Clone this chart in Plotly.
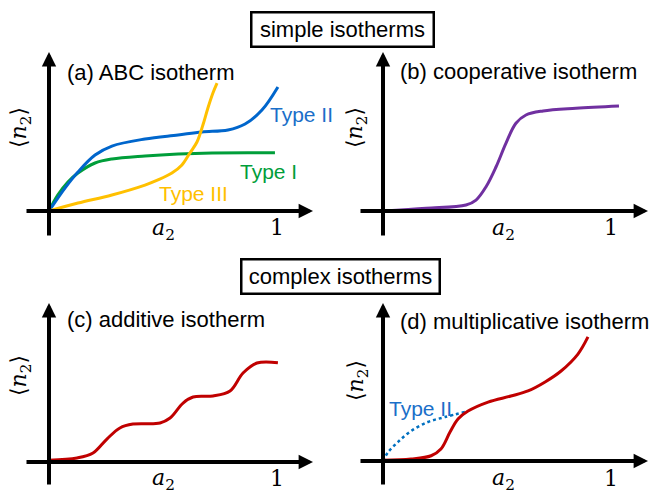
import plotly.graph_objects as go

W, H = 652, 493

# ---------------- data (x in units of a2, y in arbitrary units of <n2>) ----------------
# (a) ABC isotherm
a_typeII_x = [0, 0.070, 0.127, 0.202, 0.276, 0.421, 0.566, 0.671, 0.785, 0.860, 0.934, 1.004]
a_typeII_y = [0, 0.153, 0.260, 0.373, 0.433, 0.480, 0.507, 0.527, 0.540, 0.580, 0.673, 0.827]
a_typeI_x = [0, 0.039, 0.083, 0.127, 0.202, 0.276, 0.421, 0.566, 0.715, 0.991]
a_typeI_y = [0, 0.107, 0.193, 0.253, 0.320, 0.347, 0.367, 0.380, 0.387, 0.388]
a_typeIII_x = [0, 0.127, 0.276, 0.421, 0.478, 0.539, 0.583, 0.618, 0.649, 0.675, 0.697, 0.719, 0.737]
a_typeIII_y = [0, 0.053, 0.107, 0.173, 0.207, 0.253, 0.307, 0.387, 0.460, 0.573, 0.687, 0.787, 0.853]
# (b) cooperative isotherm
b_x = [0, 0.189, 0.364, 0.408, 0.452, 0.496, 0.539, 0.583, 0.627, 0.702, 0.846, 1.035]
b_y = [0, 0.018, 0.040, 0.073, 0.162, 0.295, 0.451, 0.585, 0.640, 0.667, 0.685, 0.700]
# (c) additive isotherm
c_x = [0, 0.123, 0.193, 0.254, 0.311, 0.368, 0.487, 0.531, 0.588, 0.632, 0.719, 0.794, 0.851, 0.912, 1.004]
c_y = [0.012, 0.027, 0.060, 0.153, 0.227, 0.253, 0.260, 0.293, 0.393, 0.433, 0.440, 0.473, 0.593, 0.660, 0.662]
# (d) multiplicative isotherm
d_x = [0, 0.123, 0.211, 0.254, 0.294, 0.329, 0.373, 0.461, 0.561, 0.636, 0.711, 0.781, 0.855, 0.899]
d_y = [0.005, 0.013, 0.035, 0.080, 0.193, 0.280, 0.333, 0.393, 0.433, 0.467, 0.527, 0.600, 0.713, 0.827]
d_typeII_x = [0, 0.022, 0.066, 0.123, 0.197, 0.272, 0.360]
d_typeII_y = [0, 0.058, 0.127, 0.200, 0.260, 0.293, 0.327]

# ---------------- layout helpers ----------------
XU, YU = 228.0, 150.0  # pixels per data unit
PANELS = [
    dict(left=25, right=313, top=52, bottom=237, ox=49, oy=211),
    dict(left=359, right=648, top=52, bottom=237, ox=383, oy=211),
    dict(left=25, right=313, top=303, bottom=486, ox=49, oy=462),
    dict(left=359, right=648, top=303, bottom=486, ox=383, oy=461),
]

def P(px, py):
    return px / W, 1 - py / H

BLUE = "#0066CC"
GREEN = "#009E3A"
GOLD = "#FFC000"
PURPLE = "#7030A0"
RED = "#C00000"
TXT_BLUE = "#1A6FC9"

SANS = "Liberation Sans, Arial, sans-serif"
SERIF = "DejaVu Serif, Liberation Serif, serif"

fig = go.Figure()
layout = dict(width=W, height=H, margin=dict(l=0, r=0, t=0, b=0),
              paper_bgcolor="white", plot_bgcolor="white", showlegend=False)
annotations = []

for i, p in enumerate(PANELS, start=1):
    xr = [(p["left"] - p["ox"]) / XU, (p["right"] - p["ox"]) / XU]
    yr = [(p["oy"] - p["bottom"]) / YU, (p["oy"] - p["top"]) / YU]
    sx = "" if i == 1 else str(i)
    layout["xaxis" + sx] = dict(domain=[p["left"] / W, p["right"] / W], range=xr,
                                visible=False, anchor="y" + sx, fixedrange=True)
    layout["yaxis" + sx] = dict(domain=[1 - p["bottom"] / H, 1 - p["top"] / H], range=yr,
                                visible=False, anchor="x" + sx, fixedrange=True)
    xn, yn = "x" + sx, "y" + sx
    # x axis arrow
    annotations.append(dict(x=xr[1], y=0, ax=xr[0], ay=0, xref=xn, yref=yn, axref=xn, ayref=yn,
                            text="", showarrow=True, arrowhead=2, arrowsize=0.72,
                            arrowwidth=4, arrowcolor="black"))
    # y axis arrow
    annotations.append(dict(x=0, y=yr[1], ax=0, ay=yr[0], xref=xn, yref=yn, axref=xn, ayref=yn,
                            text="", showarrow=True, arrowhead=2, arrowsize=0.72,
                            arrowwidth=4, arrowcolor="black"))

def line(x, y, color, ax, dash="solid", width=3):
    fig.add_trace(go.Scatter(x=x, y=y, mode="lines", xaxis=ax[0], yaxis=ax[1],
                             line=dict(color=color, width=width, shape="spline",
                                       smoothing=1.0, dash=dash),
                             hoverinfo="skip"))

line(a_typeI_x, a_typeI_y, GREEN, ("x", "y"))
line(a_typeII_x, a_typeII_y, BLUE, ("x", "y"))
line(a_typeIII_x, a_typeIII_y, GOLD, ("x", "y"))
line(b_x, b_y, PURPLE, ("x2", "y2"))
line(c_x, c_y, RED, ("x3", "y3"))
line(d_typeII_x, d_typeII_y, "#0070C0", ("x4", "y4"), dash="dot", width=2.5)
line(d_x, d_y, RED, ("x4", "y4"))

def txt(s, px, py, size=22, color="black", family=SANS, xanchor="left", angle=0, **kw):
    x, y = P(px, py)
    d = dict(text=s, x=x, y=y, xref="paper", yref="paper", showarrow=False,
             xanchor=xanchor, yanchor="middle", textangle=angle,
             font=dict(size=size, color=color, family=family))
    d.update(kw)
    annotations.append(d)

# boxed section headers
for s, cx, cy, w in [("simple isotherms", 342, 29, 176), ("complex isotherms", 340, 276, 192)]:
    txt(s, cx, cy, xanchor="center", bordercolor="black", borderwidth=2.5,
        borderpad=2, width=w, height=28, bgcolor="white")

# panel titles
txt("(a) ABC isotherm", 65, 72)
txt("(b) cooperative isotherm", 398, 71)
txt("(c) additive isotherm", 65, 319)
txt("(d) multiplicative isotherm", 398, 321)

# curve labels
txt("Type II", 268, 115, size=21, color=TXT_BLUE)
txt("Type I", 238, 171, size=21, color=GREEN)
txt("Type III", 157, 193, size=21, color=GOLD)
txt("Type II", 387, 408, size=21, color=TXT_BLUE)

# axis labels
for (lx, ly), (ax_x, ax_y), (one_x, one_y) in [
    ((20, 128), (163, 229), (277, 227)),
    ((357, 127), (503, 229), (611, 227)),
    ((20, 376), (163, 479), (277, 478)),
    ((357, 380), (503, 479), (611, 478)),
]:
    txt("⟨<i>n</i><sub>2</sub>⟩", lx, ly, size=22, family=SERIF, xanchor="center", angle=-90)
    txt("<i>a</i><sub>2</sub>", ax_x, ax_y, size=22, family=SERIF, xanchor="center")
    txt("1", one_x, one_y, size=22, family=SERIF, xanchor="center")

layout["annotations"] = annotations
fig.update_layout(**layout)
fig.write_html("out.html", config={"displayModeBar": False},
               post_script="document.body.style.margin='0';")
